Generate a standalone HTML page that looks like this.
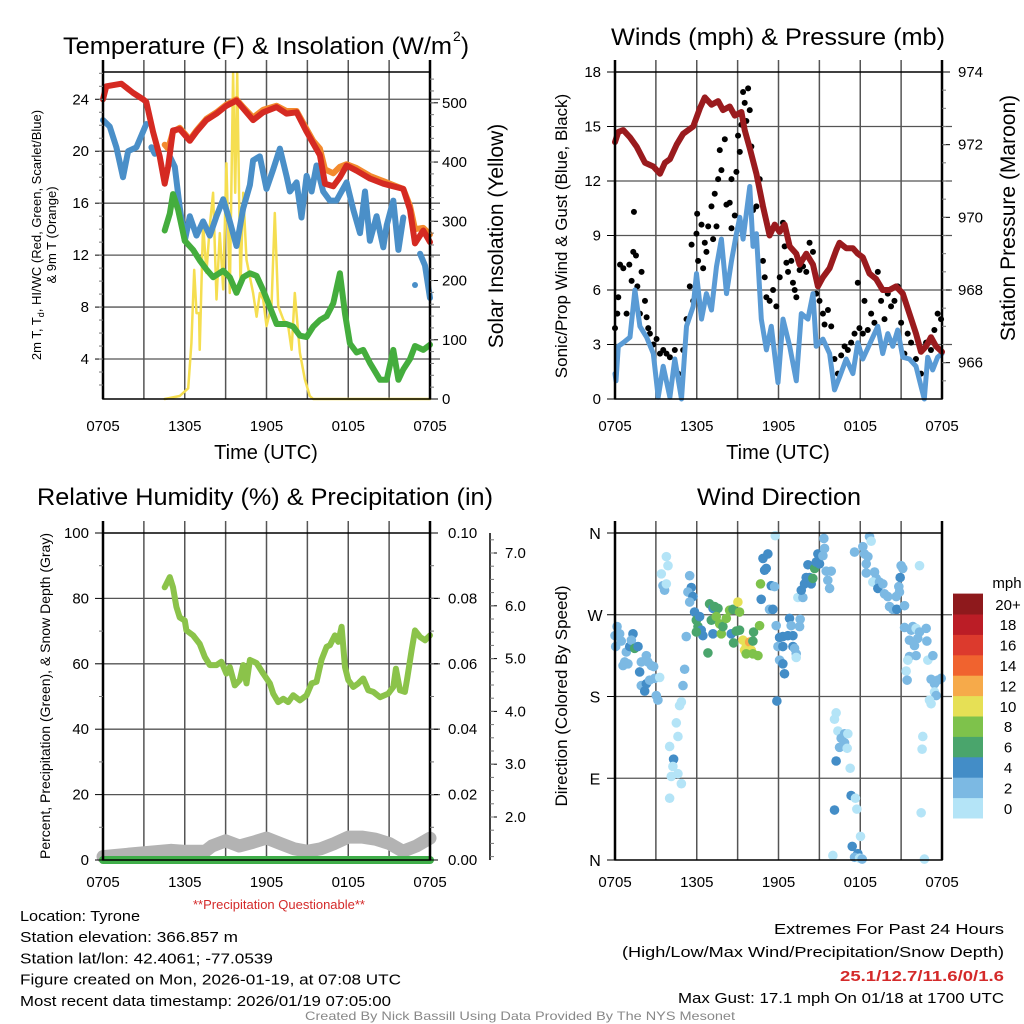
<!DOCTYPE html>
<html><head><meta charset="utf-8"><style>
html,body{margin:0;padding:0;background:#fff;}
svg{display:block;font-family:"Liberation Sans",sans-serif;}
</style></head><body>
<svg id="c" width="1024" height="1024" viewBox="0 0 1024 1024"></svg>
<script>
// ---- data (time in hours since 0705 UTC) ----
const xTickLabels=["0705","1305","1905","0105","0705"];
const tempT=[0,.24,1.35,2.2,2.94,3.18,3.67,4.16,4.53,4.78,5.14,5.63,6.37,6.86,7.59,8.33,9.06,9.8,10.29,11.02,11.76,12.74,13.47,14.21,14.94,15.43,15.92,16.29,16.9,17.39,17.88,18.61,19.59,20.57,21.31,22.04,22.53,22.9,23.51,24];
const tempV=[24,25,25.2,24.5,24,23.8,21.5,19.6,17.5,18.8,21.6,21.7,20.8,21.5,22.4,22.9,23.5,23.9,23.3,22.4,23,23.4,22.9,23,21.5,20.6,19.7,17.5,17.3,18,18.9,18.5,17.9,17.5,17.3,17.1,15.5,12.9,13.9,13];
const t9T=[4.53,4.78,5.14,5.63,6.37,6.86,7.59,8.33,9.06,9.8,10.29,11.02,11.76,12.74,13.47,14.21,14.94,15.43,15.92,16.29,16.9,17.39,17.88,18.61,19.59,20.57,21.31,22.04,22.53,22.9,23.51,24];
const t9V=[20.5,20.2,21.5,21.8,20.9,21.6,22.5,23,23.6,24,23.4,22.6,23.2,23.5,23.1,23.1,21.7,20.8,20.2,18.6,18.3,18.8,19,18.7,18.1,17.7,17.4,17.1,15.8,14,14.1,13.6];
const wcT=[0,.49,.98,1.47,1.84,2.45,3.18,null,3.55,3.8,null,4.9,5.27,5.63,6,6.37,6.86,7.35,7.84,8.33,8.82,9.31,9.8,10.29,10.78,11.02,11.51,12,12.49,12.98,13.47,13.72,14.21,14.57,14.94,15.31,15.67,16.16,16.65,17.14,17.88,18.37,18.86,19.23,19.59,20.08,20.57,20.82,21.31,21.68,22.04,null,23.27,23.63,24];
const wcV=[22.4,21.9,20.3,18,20,20.3,22.1,null,20.3,19.8,null,19.6,18.8,15.7,13.1,15,13.5,14.6,13.5,15,16.3,14.6,12.7,15.6,17.4,19.3,19.6,17.1,18.6,20.2,18.1,16.9,17.6,14.9,18.1,16.9,18.9,16.9,16.2,16.2,17.6,15.5,13.7,16.9,13.1,15,12.6,14.3,16.2,12.4,14.9,null,12.1,11.2,8.7];
const tdT=[4.53,4.9,5.14,5.51,6,6.61,7.1,7.59,8.08,8.82,9.31,9.8,10.29,10.78,11.27,11.76,12.25,12.74,13.47,13.96,14.45,14.94,15.43,15.92,16.41,16.9,17.39,17.76,18.12,18.61,19.1,19.59,20.33,20.82,21.31,21.68,22.04,22.53,22.9,23.51,24];
const tdV=[13.9,15.2,16.7,15.5,13.1,12.4,11.6,10.9,10.3,10.8,10.3,9.1,10.3,10.6,10.4,9.3,8,6.7,6.7,6.5,5.8,5.7,6.5,7,7.3,8.3,10.6,7.5,5.2,4.5,4.7,3.7,2.4,2.4,4.7,2.4,3.2,4,5,4.7,5.1];
const solT=[4.53,5.63,6.25,6.49,6.69,6.86,7.05,7.1,7.35,7.59,7.84,8.08,8.33,8.57,8.82,9.06,9.31,9.55,9.7,9.85,10.09,10.29,10.53,11.02,11.27,11.51,11.76,12,12.37,12.61,12.86,13.23,13.59,13.84,14.08,14.45,14.82,15.18,15.43,24];
const solV=[0,5,18,94,218,145,145,83,297,213,292,348,168,280,185,398,179,550,348,550,190,348,235,179,139,179,168,123,157,314,157,134,123,83,179,78,33,5,0,0];
const presT=[0,.24,.61,1.1,1.59,2.2,2.81,3.3,3.66,4.03,4.52,5,5.74,6.23,6.59,7.08,7.57,7.93,8.42,8.79,9.28,9.52,9.89,10.38,10.86,11.35,11.72,12.08,12.45,12.82,13.31,13.55,14.04,14.53,14.89,15.26,15.75,16.24,16.48,16.97,17.46,17.82,18.19,18.68,19.17,19.65,20.14,20.63,21.12,21.61,22.09,22.46,22.83,23.19,23.56,24];
const presV=[972.07,972.35,972.4,972.2,971.94,971.5,971.4,971.2,971.5,971.6,972,972.3,972.5,973,973.3,973.1,973.2,972.95,973.05,972.8,972.9,972.4,971.9,971.2,970.3,969.5,969.8,969.6,969.8,969.2,969,968.7,969,968.7,968.1,968.35,968.6,969.1,969.3,969.15,969.15,969,968.9,968.45,968.3,968,968,968.1,967.9,967.35,966.8,966.3,966.45,966.7,966.45,966.3];
const windT=[0,.07,.24,.61,1.1,1.46,1.83,2.32,2.81,3.17,3.54,4.03,4.39,4.88,5.25,5.74,5.98,6.35,6.71,7.08,7.45,7.81,8.18,8.55,8.91,9.16,9.4,9.64,9.89,10.13,10.38,10.74,11.11,11.47,11.96,12.33,12.82,13.31,13.67,14.16,14.53,14.77,15.26,15.75,16.11,16.48,16.97,17.46,17.82,18.19,18.92,19.29,19.65,20.02,20.39,20.75,21.12,21.61,22.09,22.46,22.7,22.95,23.32,23.68,24];
const windV=[1.4,1,2.9,3.1,3.4,6,4,3.4,2.5,.1,1.8,.1,2.2,0,4,5.1,6.9,4.4,5.8,4.9,7.3,8.8,5.8,7.6,9.1,10,8.8,10.2,11.7,8.4,9.1,4.4,2.7,4,.9,4.4,2.9,1,4.7,4.4,5.8,2.9,3.3,2.5,.5,1.2,2.2,1.4,3.1,2.2,3.4,4,2.5,3.6,2.9,3.8,2.3,2.2,1.8,.7,0,2.3,1.6,2.3,2.5];
const gustT=[0,.17,.24,.37,.61,.85,1.05,1.22,1.34,1.39,1.54,1.64,1.83,1.95,2.2,2.32,2.44,2.56,2.81,3.05,3.3,3.54,3.78,4.03,4.39,4.64,5,5.25,5.49,5.62,5.74,5.98,6.03,6.1,6.35,6.47,6.59,6.71,6.84,7.08,7.2,7.32,7.45,7.57,7.69,7.81,8.06,8.18,8.42,8.55,8.55,8.79,8.91,9.03,9.16,9.28,9.4,9.52,9.64,9.77,9.89,10.01,10.13,10.38,10.62,10.86,10.99,11.11,11.35,11.6,11.84,12.09,12.33,12.45,12.58,12.7,12.94,13.06,13.19,13.31,13.55,13.8,14.04,14.28,14.53,14.77,15.01,15.26,15.38,15.63,15.87,16.11,16.36,16.6,16.85,17.09,17.33,17.58,17.82,17.94,18.19,18.31,18.55,18.8,19.04,19.29,19.53,19.78,20.02,20.26,20.51,20.75,21,21.24,21.48,21.73,22.09,22.46,22.83,23.19,23.44,23.68,23.93];
const gustV=[3.9,4.7,5.6,7.4,7.2,4.7,7.4,6.5,8.1,10.3,7.9,6.2,4.7,7,5.4,4.5,3.9,3.6,3,3.3,2.5,2.7,2.5,2.3,2.7,1.4,2.7,4.4,6.2,8.5,5.4,9.1,10.2,7.6,9.6,7.2,8.6,8.1,9.5,10.6,8.8,11.3,9.5,12.1,13.7,12.6,14.3,10.7,10.8,12.1,9.4,10.1,12.5,14.5,13.6,15.1,16.9,16.3,15.3,17.1,15.9,13.9,10.4,10.6,12.1,7.6,6.7,5.6,5.4,6,5.1,6.7,9.7,8.4,7.5,7,7.6,6.4,6,5.6,7.1,7.3,7,8.6,8.1,5.8,5.4,4.7,4.1,4.9,4,2.2,1.4,2.4,2.9,2.7,3.1,3.6,6.4,3.9,3.6,5.4,3.8,4.7,4.2,7,5.4,4.4,5.8,5.1,5.4,6.2,4.2,2.5,3.6,3.1,2.2,1.4,3.1,2.7,3.8,4.7,4.4];
const rhT=[4.53,4.9,5.14,5.39,5.63,6,6.12,6.61,7.1,7.47,7.84,8.33,8.69,9.06,9.31,9.67,10.04,10.29,10.53,10.78,11.27,11.76,12.25,12.49,12.86,13.23,13.59,13.96,14.45,14.94,15.31,15.67,16.04,16.41,16.65,17.02,17.27,17.51,17.76,18,18.37,18.74,19.1,19.47,19.84,20.33,20.94,21.31,21.5,21.8,22.16,22.33,22.65,22.9,23.27,23.63,24];
const rhV=[83.4,86.5,83.4,77.4,74.2,73.2,70.2,68.7,66.1,62.1,59.6,59.6,60.6,57,59,53.4,55,59.6,54,61.2,60.2,57,54,50.9,48.3,49.3,48.3,50.4,48.8,50.4,54,54.5,61.2,65.2,65.7,68.7,66.7,71.3,59,55,52.9,54,55.5,51.9,51.4,49.8,50.9,52.9,58.5,51.9,51.4,55.5,64.1,70.2,68.2,67.2,68.7];
const snowT=[0,2,5,6,7.5,8,9,10,11,12,13,14,15,16,17,18,19,20,21,22,23,24];
const snowV=[1.25,1.3,1.37,1.35,1.35,1.45,1.55,1.45,1.52,1.6,1.5,1.4,1.35,1.4,1.5,1.62,1.62,1.58,1.5,1.35,1.45,1.6];
const precipT=[0,24];
const precipV=[0,0];
const dirT=[0,.15,.34,.05,.46,.71,.83,1.08,1.32,1.2,1.44,1.69,.59,.95,1.81,1.93,2.3,2.42,2.67,2.84,1.93,2.18,2.3,2.54,2.91,3.03,3.15,3.28,3.4,3.77,3.89,3.52,3.64,3.77,5.11,4.99,4.87,4.74,4.5,4.62,4.01,4.3,4.25,4.13,4.62,4.87,4.01,5.48,5.6,5.35,5.72,5.48,5.84,5.23,5.97,6.09,6.21,6.33,6.45,5.97,6.94,7.19,7.31,7.56,7.19,7.07,7.43,7.68,7.8,7.92,8.17,8.41,8.66,8.53,8.9,9.14,9.02,9.14,6.82,8.7,9.39,9.63,9.88,9.51,10,9.63,10.12,10.12,10.49,10.17,10.61,10.68,10.86,11.22,10.98,11.1,11.47,11.71,10.73,11.34,11.59,11.83,12.08,12.32,12.69,13.06,12.81,12.93,13.55,13.59,11.96,12.32,13.06,13.18,13.3,13.3,12.08,12.32,12.44,11.88,11.76,13.42,13.79,13.67,13.91,14.03,14.28,14.4,14.16,14.52,14.65,14.77,14.89,15.01,15.26,15.38,15.33,15.5,15.87,15.62,15.75,17.58,18.19,18.31,18.56,18.44,18.68,18.8,18.44,19.05,19.17,18.92,19.41,19.29,19.66,19.78,20.02,20.15,20.39,20.64,20.68,20.88,20.83,21,21.12,20.93,21.25,22.35,16.23,16.11,16.36,16.6,16.85,17.09,16.48,16.85,17.04,16.23,17.26,17.33,17.65,16.11,17.75,18.02,15.99,17.41,17.82,17.58,17.95,18.14,21.25,21.86,21.74,22.1,22.22,22.84,21.61,21.98,22.35,22.89,21.61,21.49,22.1,22.96,23.33,21.37,21.44,23.2,23.45,23.69,23.94,23.45,23.57,23.08,23.2,22.59,22.54,22.47,22.71];
const dirV=[247,257,249,235,241,218,229,235,249,242,233,235,214,216,207,218,225,218,214,213,192,186,194,198,200,181,176,201,315,334,324,302,297,304,210,192,174,170,151,136,125,111,103,92,95,84,68,313,300,295,290,284,273,246,264,257,268,253,247,251,282,277,279,277,249,264,268,260,249,257,266,275,276,249,252,253,284,273,228,239,242,235,240,231,231,227,241,227,225,251,258,304,332,337,319,321,302,301,287,276,276,258,245,246,247,247,266,258,257,265,235,235,235,233,227,223,220,216,205,175,357,289,289,297,304,311,311,304,325,310,321,328,337,326,335,343,354,318,318,308,299,339,345,337,334,326,356,351,316,317,310,306,306,299,304,293,290,279,276,290,276,295,301,324,321,311,280,324,162,155,142,134,139,139,124,129,123,109,101,71,68,55,56,26,5,15,7,3,2,1,256,257,253,255,244,255,242,236,251,241,224,220,225,220,225,208,198,199,194,198,200,185,181,176,172,136,122,52,1];
const dirSpd=[3,3,3,3,3,3,3,5,5,3,7,5,3,3,5,3,3,3,3,3,3,5,5,3,3,3,3,1,1,1,1,3,3,1,3,3,1,1,1,1,1,5,1,1,1,1,1,3,5,3,5,3,5,3,7,7,5,5,5,7,7,5,7,7,5,7,9,9,9,7,9,9,7,5,7,7,11,9,7,7,11,11,13,11,11,9,7,9,9,7,9,9,5,5,5,5,5,3,5,3,5,3,5,5,5,5,5,3,3,3,3,5,5,3,3,1,3,5,5,5,1,1,3,5,5,5,5,5,5,7,7,5,5,5,3,3,3,3,3,3,3,3,3,3,3,3,3,1,3,3,3,1,3,5,3,3,3,3,3,3,5,3,3,3,3,5,3,1,1,1,1,3,3,1,3,3,1,5,1,5,1,5,1,1,1,5,5,3,1,3,3,3,3,1,3,3,3,3,3,3,3,1,3,1,3,1,3,3,3,3,3,1,3,1,1,1,1,1,1];
const cbLabels=["0","2","4","6","8","10","12","14","16","18","20+"];
const cbColors=["#b4e4f7","#7cb9e3","#438dc7","#4aa56c","#7ec24b","#e6e055","#f6aa4a","#f0632f","#dc3a2d","#bb1d26","#8e191c"];

const NS="http://www.w3.org/2000/svg";
const svg=document.getElementById("c");
function el(tag,attrs,parent,text){const e=document.createElementNS(NS,tag);for(const k in attrs)e.setAttribute(k,attrs[k]);if(text!==undefined)e.textContent=text;(parent||svg).appendChild(e);return e;}
function lin(d0,d1,r0,r1){return v=>r0+(v-d0)/(d1-d0)*(r1-r0);}
function pathD(T,V,sx,sy){let d="",pen=false;for(let i=0;i<T.length;i++){if(T[i]===null||V[i]===null){pen=false;continue;}d+=(pen?"L":"M")+sx(T[i]).toFixed(1)+" "+sy(V[i]).toFixed(1);pen=true;}return d;}

const P={tl:[103,430,72,399],tr:[615,942,72,399],bl:[103,430,533,860],br:[615,942,533,860]};
function frameGrid(p,name,hVals,sy){
  const [x0,x1,y0,y1]=p;const g=el("g",{},svg);
  
  
  const sx=lin(0,24,x0,x1);
  for(let h=3;h<24;h+=3){el("line",{x1:sx(h),x2:sx(h),y1:y0-12,y2:y1,stroke:"#555","stroke-width":1.5},g);}
  hVals.forEach(v=>el("line",{x1:x0,x2:x1+10,y1:sy(v),y2:sy(v),stroke:"#555","stroke-width":1.3},g));
  return sx;
}
function frame(p,name){const [x0,x1,y0,y1]=p;const r=el("rect",{x:x0,y:y0,width:x1-x0,height:y1-y0,fill:"none",stroke:"#000","stroke-width":1.5});
  
  
  el("line",{x1:x0,x2:x0,y1:y0-12,y2:y1,stroke:"#000","stroke-width":2.5});el("line",{x1:x1,x2:x1,y1:y0-12,y2:y1,stroke:"#000","stroke-width":2.5});}
function xLabels(p,y,name){const [x0,x1]=p;const sx=lin(0,24,x0,x1);xTickLabels.forEach((s,i)=>{const t=el("text",{x:sx(i*6),y:y,"font-size":15,"text-anchor":"middle"},svg,s);
  
  });}
function txt(x,y,s,size,name,opts){const a=Object.assign({x:x,y:y,"font-size":size},opts||{});const t=el("text",a,svg,s);
  
  return t;}
function leftTicks(x,sy,major,minor,fmt,name){major.forEach(v=>{el("line",{x1:x-8,x2:x,y1:sy(v),y2:sy(v),stroke:"#000","stroke-width":1});const t=el("text",{x:x-14,y:sy(v)+5,"font-size":15,"text-anchor":"end"},svg,fmt(v));
  
  });
  minor.forEach(v=>el("line",{x1:x-4,x2:x,y1:sy(v),y2:sy(v),stroke:"#777","stroke-width":1}));}
function rightTicks(x,sy,major,minor,fmt,name,lx){major.forEach(v=>{el("line",{x1:x,x2:x+8,y1:sy(v),y2:sy(v),stroke:"#000","stroke-width":1});const t=el("text",{x:lx||x+14,y:sy(v)+5,"font-size":15},svg,fmt(v));
  
  });
  minor.forEach(v=>el("line",{x1:x,x2:x+4,y1:sy(v),y2:sy(v),stroke:"#777","stroke-width":1}));}
function range(a,b,s){const r=[];for(let v=a;v<=b+1e-9;v+=s)r.push(+v.toFixed(3));return r;}
function line(T,V,sx,sy,color,w,name,cap){const p=el("path",{d:pathD(T,V,sx,sy),fill:"none",stroke:color,"stroke-width":w,"stroke-linejoin":"round","stroke-linecap":cap||"round"});
  
  return p;}

// ===== Top-left: temperature =====
{const p=P.tl;const sy=lin(1,26.1,398,72);const sIns=lin(0,552,399,72);
 const sx=frameGrid(p,"temperature",[4,8,12,16,20,24],sy);
 line(solT,solV,sx,sIns,"#f5de50",2.5,"solar-insolation-line");
 line(t9T,t9V,sx,sy,"#f38a2e",6,"9m-temperature-line");
 line(wcT,wcV,sx,sy,"#4a8fc8",6,"wind-chill-line");
 const d=el("circle",{cx:sx(22.9),cy:sy(9.7),r:3,fill:"#4a8fc8"});
 
 
 line(tdT,tdV,sx,sy,"#44ad3d",6,"dewpoint-line");
 line(tempT,tempV,sx,sy,"#d52a22",6,"temperature-line");
 frame(p,"temperature");
 leftTicks(p[0],sy,[4,8,12,16,20,24],range(2,26,1),v=>v,"temperature-y");
 rightTicks(p[1],sIns,[0,100,200,300,400,500],range(20,540,20),v=>v,"insolation-y",442);
 xLabels(p,431,"temperature");
 const tt=txt(63,54,"Temperature (F) & Insolation (W/m",24,"temperature-chart-title");
 tt.setAttribute("textLength",389);tt.setAttribute("lengthAdjust","spacingAndGlyphs");
 txt(453,41,"2",14,"title-superscript");txt(461,54,")",24,"title-paren");
 txt(266,459,"Time (UTC)",20,"temperature-x-axis-title",{"text-anchor":"middle"});
 const yl=el("text",{transform:"translate(41,235) rotate(-90)","font-size":13,"text-anchor":"middle"});
 
 
 el("tspan",{x:0,y:0},yl,"2m T, T");el("tspan",{"font-size":9,dy:3},yl,"d");el("tspan",{dy:-3},yl,", HI/WC (Red, Green, Scarlet/Blue)");
 el("tspan",{x:0,y:15},yl,"& 9m T (Orange)");
 txt(0,0,"Solar Insolation (Yellow)",21,"insolation-y-axis-title",{transform:"translate(503,236) rotate(-90)","text-anchor":"middle"});
}
// ===== Top-right: winds =====
{const p=P.tr;const sy=lin(0,18,399,72);const sp=lin(965,974,399,72);
 const sx=frameGrid(p,"winds",[3,6,9,12,15],sy);
 const g=el("g",{});
 gustT.forEach((t,i)=>{el("circle",{cx:sx(t),cy:sy(gustV[i]),r:3,fill:"#000"},g);});
 line(windT,windV,sx,sy,"#5a9bd5",5,"wind-speed-line");
 line(presT,presV,sx,sp,"#9a1b1e",6,"pressure-line");
 frame(p,"winds");
 leftTicks(p[0],sy,[0,3,6,9,12,15,18],[],v=>v,"wind-y");
 rightTicks(p[1],sp,[966,968,970,972,974],range(965.5,973.5,0.5),v=>v,"pressure-y",958);
 xLabels(p,431,"winds");
 const wt=txt(611,45,"Winds (mph) & Pressure (mb)",24,"winds-chart-title");
 wt.setAttribute("textLength",334);wt.setAttribute("lengthAdjust","spacingAndGlyphs");
 txt(778,459,"Time (UTC)",20,"winds-x-axis-title",{"text-anchor":"middle"});
 txt(0,0,"Sonic/Prop Wind & Gust (Blue, Black)",17,"wind-y-axis-title",{transform:"translate(567,236) rotate(-90)","text-anchor":"middle"});
 txt(0,0,"Station Pressure (Maroon)",21,"pressure-y-axis-title",{transform:"translate(1015,218) rotate(-90)","text-anchor":"middle"});
}
// ===== Bottom-left: RH =====
{const p=P.bl;const sy=lin(0,100,860,533);const sPr=lin(0,0.1,860,533);const sSn=lin(2,7,817,553);
 const sx=frameGrid(p,"humidity",[20,40,60,80],sy);
 line(snowT,snowV,sx,sSn,"#b3b3b3",13,"snow-depth-line");
 line(precipT,precipV,sx,sPr,"#3fae49",8,"precipitation-line");
 line(rhT,rhV,sx,sy,"#8bc34a",6,"relative-humidity-line");
 frame(p,"humidity");
 leftTicks(p[0],sy,[0,20,40,60,80,100],range(10,90,20),v=>v,"humidity-y");
 rightTicks(p[1],sPr,[0,.02,.04,.06,.08,.1],range(.01,.09,.01),v=>v.toFixed(2),"precip-y",448);
 el("line",{x1:490,x2:490,y1:533,y2:860,stroke:"#000","stroke-width":1.5});
 [2,3,4,5,6,7].forEach(v=>{el("line",{x1:490,x2:497,y1:sSn(v),y2:sSn(v),stroke:"#000"});const t=el("text",{x:505,y:sSn(v)+5,"font-size":15},svg,v.toFixed(1));
  });
 range(1.25,7.25,0.25).forEach(v=>{if(sSn(v)>=533&&sSn(v)<=860)el("line",{x1:490,x2:494,y1:sSn(v),y2:sSn(v),stroke:"#777"});});
 xLabels(p,887,"humidity");
 const rt=txt(37,505,"Relative Humidity (%) & Precipitation (in)",24,"humidity-chart-title");
 rt.setAttribute("textLength",456);rt.setAttribute("lengthAdjust","spacingAndGlyphs");
 txt(279,909,"**Precipitation Questionable**",13,"precip-warning",{"text-anchor":"middle",fill:"#d42a2a"});
 txt(0,0,"Percent, Precipitation (Green), & Snow Depth (Gray)",14,"humidity-y-axis-title",{transform:"translate(50,696) rotate(-90)","text-anchor":"middle"});
}
// ===== Bottom-right: wind direction =====
{const p=P.br;const sy=lin(0,360,860,533);
 const sx=frameGrid(p,"direction",[90,180,270],sy);
 const g=el("g",{});
 dirT.forEach((t,i)=>{const s=dirSpd[i]===undefined?1:dirSpd[i];const idx=Math.min(10,Math.floor(s/2));el("circle",{cx:sx(t),cy:sy(dirV[i]),r:4.8,fill:cbColors[idx]},g);});
 frame(p,"direction");
 ["N","E","S","W","N"].forEach((s,i)=>{el("line",{x1:p[0]-8,x2:p[0],y1:sy(i*90),y2:sy(i*90),stroke:"#000"});const t=el("text",{x:p[0]-20,y:sy(i*90)+6,"font-size":16,"text-anchor":"middle"},svg,s);
  });
 xLabels(p,887,"direction");
 const dt=txt(697,505,"Wind Direction",24,"direction-chart-title");
 dt.setAttribute("textLength",164);dt.setAttribute("lengthAdjust","spacingAndGlyphs");
 txt(0,0,"Direction (Colored By Speed)",17,"direction-y-axis-title",{transform:"translate(567,696) rotate(-90)","text-anchor":"middle"});
 const cb=el("g",{});
 const bh=20.4;cbColors.forEach((c,i)=>{el("rect",{x:953,y:818-(i+1)*bh,width:30,height:bh+0.5,fill:c},cb);
  const t=el("text",{x:1008,y:818-(i+0.5)*bh+6,"font-size":15,"text-anchor":"middle"},svg,cbLabels[i]);
  });
 txt(1007,588,"mph",15,"colorbar-title",{"text-anchor":"middle"});
}
// ===== Footer text =====
const info=[["Location: Tyrone",120],["Station elevation: 366.857 m",218],["Station lat/lon: 42.4061; -77.0539",253],["Figure created on Mon, 2026-01-19, at 07:08 UTC",381],["Most recent data timestamp: 2026/01/19 07:05:00",371]];
info.forEach((r,i)=>{const t=txt(20,921+i*21.2,r[0],15,"station-info-line");t.setAttribute("textLength",r[1]);t.setAttribute("lengthAdjust","spacingAndGlyphs");});
const ext=[["Extremes For Past 24 Hours",230,934,{}],["(High/Low/Max Wind/Precipitation/Snow Depth)",382,957,{}],["25.1/12.7/11.6/0/1.6",164,981,{fill:"#d42a2a","font-weight":"bold"}],["Max Gust: 17.1 mph On 01/18 at 1700 UTC",326,1003,{}]];
ext.forEach(r=>{const t=txt(1004-r[1],r[2],r[0],15,"extremes-line",r[3]);t.setAttribute("textLength",r[1]);t.setAttribute("lengthAdjust","spacingAndGlyphs");});
{const t=txt(305,1020,"Created By Nick Bassill Using Data Provided By The NYS Mesonet",12,"credit-footer",{fill:"#888"});t.setAttribute("textLength",430);t.setAttribute("lengthAdjust","spacingAndGlyphs");}
</script>
</body></html>
